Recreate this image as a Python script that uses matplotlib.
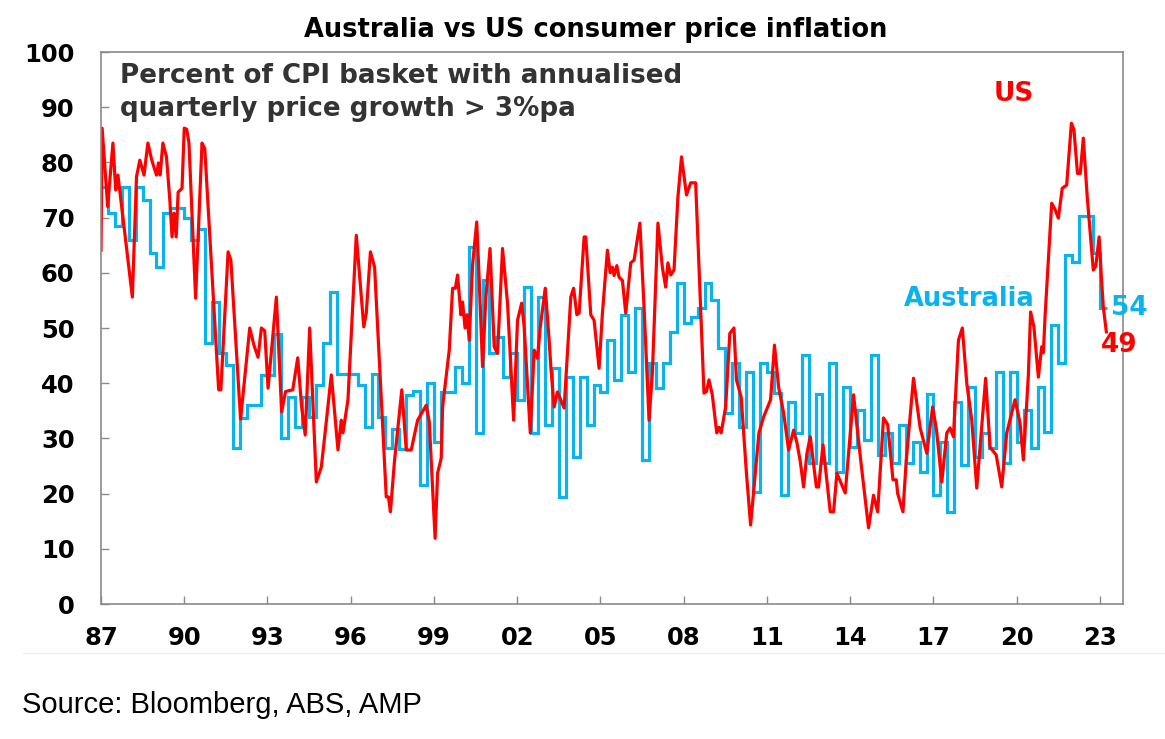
import numpy as np
import matplotlib
matplotlib.use('Agg')
import matplotlib.pyplot as plt
from matplotlib.lines import Line2D

# %%
# Data

# Australia: quarterly, 1987Q1 .. 2023Q1 (% of CPI basket)
aus_start = 1987
aus_values = [
    75.6, 70.8, 68.4, 75.6, 66.0, 75.6, 73.2, 63.6, 61.1, 70.8,    # 87-89
    71.7, 71.7, 69.9, 66.0, 68.0, 47.3, 54.7, 45.4, 43.3, 28.3,    # 89-91
    33.7, 36.0, 36.0, 41.5, 41.5, 49.0, 30.0, 37.5, 32.0, 37.5,    # 92-94
    33.9, 39.7, 47.3, 56.5, 41.6, 41.6, 41.6, 39.7, 32.0, 41.6,    # 94-96
    33.9, 28.3, 31.7, 28.0, 37.9, 38.5, 21.5, 40.0, 29.3, 38.4,    # 97-99
    38.4, 43.0, 40.0, 64.7, 31.0, 58.7, 45.4, 48.4, 41.1, 45.4,    # 99-01
    37.0, 57.4, 31.0, 55.6, 32.4, 42.7, 19.4, 41.1, 26.7, 41.1,    # 02-04
    32.4, 39.7, 38.4, 47.8, 40.6, 52.4, 42.0, 53.6, 26.1, 43.7,    # 04-06
    39.1, 43.7, 49.3, 58.1, 50.9, 52.0, 53.6, 58.1, 55.0, 46.4,    # 07-09
    34.6, 43.7, 32.1, 42.0, 20.3, 43.7, 42.0, 38.2, 19.7, 36.6,    # 09-11
    31.0, 45.1, 25.5, 38.0, 25.5, 43.7, 23.9, 39.3, 28.4, 35.1,    # 12-14
    29.7, 45.1, 27.0, 31.0, 25.5, 32.4, 25.5, 29.4, 23.9, 38.0,    # 14-16
    19.7, 29.4, 16.7, 36.6, 25.2, 39.3, 26.7, 31.0, 28.3, 42.0,    # 17-19
    25.5, 42.0, 29.4, 35.1, 28.3, 39.3, 31.2, 50.5, 43.7, 63.2,    # 19-21
    62.0, 70.3, 70.3, 63.5, 53.6,                                  # 22-23
]

# US: monthly-ish, turning points (decimal years)
us_dates = [
    1987.00, 1987.04, 1987.24, 1987.32, 1987.43, 1987.53, 1987.61,
    1988.13, 1988.28, 1988.40, 1988.55, 1988.69, 1988.83,
    1989.00, 1989.07, 1989.13, 1989.23, 1989.36, 1989.48, 1989.56, 1989.63, 1989.71, 1989.78, 1989.92,
    1990.00, 1990.09, 1990.17, 1990.41, 1990.64, 1990.74,
    1991.24, 1991.32, 1991.58, 1991.68,
    1992.03, 1992.36, 1992.51, 1992.66, 1992.78, 1992.90,
    1993.02, 1993.32, 1993.51, 1993.65, 1993.91,
    1994.09, 1994.23, 1994.36, 1994.52, 1994.76, 1994.94,
    1995.06, 1995.30, 1995.54, 1995.66, 1995.72, 1995.90,
    1996.20, 1996.47, 1996.56, 1996.71, 1996.86,
    1997.28, 1997.36, 1997.43, 1997.58, 1997.84,
    1998.00, 1998.18, 1998.41, 1998.72, 1998.83,
    1999.04, 1999.13, 1999.26, 1999.31, 1999.55, 1999.67, 1999.77, 1999.85, 1999.97,
    2000.03, 2000.12, 2000.19, 2000.27, 2000.39, 2000.54, 2000.63, 2000.75, 2000.87,
    2001.02, 2001.17, 2001.29, 2001.47, 2001.65, 2001.87,
    2002.01, 2002.16, 2002.25, 2002.47, 2002.61, 2002.73, 2002.83,
    2003.01, 2003.15, 2003.21, 2003.33, 2003.45, 2003.69, 2003.93,
    2004.03, 2004.15, 2004.23, 2004.41, 2004.47, 2004.65, 2004.77, 2004.95,
    2005.07, 2005.25, 2005.35, 2005.43, 2005.49, 2005.59, 2005.67, 2005.79, 2005.91,
    2006.09, 2006.21, 2006.42, 2006.57, 2006.75, 2006.87,
    2007.07, 2007.23, 2007.35, 2007.43, 2007.53, 2007.65, 2007.79, 2007.92,
    2008.10, 2008.25, 2008.43, 2008.55, 2008.73, 2008.82, 2008.91,
    2009.03, 2009.19, 2009.27, 2009.35, 2009.51, 2009.66, 2009.81, 2009.90,
    2010.07, 2010.26, 2010.41, 2010.59, 2010.71, 2010.88,
    2011.13, 2011.27, 2011.42, 2011.60, 2011.78, 2011.96,
    2012.08, 2012.20, 2012.32, 2012.44, 2012.56, 2012.78, 2012.86,
    2013.02, 2013.28, 2013.40, 2013.52, 2013.82,
    2014.12, 2014.39, 2014.66, 2014.84, 2014.99,
    2015.20, 2015.35, 2015.54, 2015.66, 2015.71, 2015.90,
    2016.02, 2016.28, 2016.52, 2016.76, 2016.97,
    2017.11, 2017.30, 2017.48, 2017.60, 2017.72, 2017.90,
    2018.04, 2018.20, 2018.38, 2018.56, 2018.74, 2018.88,
    2019.04, 2019.26, 2019.46, 2019.64, 2019.94,
    2020.12, 2020.24, 2020.42, 2020.50, 2020.62, 2020.78, 2020.90, 2020.96, 2021.02,
    2021.26, 2021.38, 2021.50, 2021.64, 2021.80, 2021.97,
    2022.06, 2022.19, 2022.29, 2022.40, 2022.54, 2022.76, 2022.85, 2022.97,
    2023.05, 2023.12, 2023.23,
]
us_values = [
    64.1, 86.2, 72.0, 76.8, 83.5, 75.0, 77.7,
    55.6, 77.4, 80.4, 77.7, 83.5, 80.4,
    77.7, 79.9, 77.7, 83.5, 81.0, 73.2, 66.5, 70.8, 66.5, 74.6, 75.3,
    86.2, 86.0, 83.5, 55.4, 83.5, 82.5,
    38.8, 38.8, 63.8, 62.3,
    33.5, 50.0, 46.9, 44.7, 50.0, 49.5,
    39.1, 55.6, 34.8, 38.5, 38.8,
    44.6, 35.7, 30.6, 50.0, 22.1, 24.8,
    30.3, 41.5, 27.9, 33.3, 31.0, 37.0,
    66.8, 50.2, 52.7, 63.8, 61.0,
    19.4, 19.4, 16.7, 26.1, 38.8,
    27.9, 27.9, 33.3, 36.0, 33.0,
    11.9, 23.7, 26.4, 35.7, 46.0, 57.2, 57.2, 59.6, 52.4,
    54.7, 50.0, 52.4, 47.8, 61.4, 69.2, 58.7, 43.0, 55.6,
    64.4, 46.6, 45.4, 64.4, 54.5, 33.3,
    51.4, 54.5, 50.2, 31.0, 46.0, 44.5, 50.2,
    57.2, 47.8, 43.0, 35.7, 38.4, 35.5, 55.6,
    57.2, 52.4, 52.7, 66.5, 66.5, 52.4, 51.4, 42.7,
    52.7, 64.1, 60.0, 61.0, 59.5, 61.3, 59.2, 58.6, 52.7,
    61.8, 62.3, 69.0, 53.8, 33.3, 41.8,
    69.0, 61.0, 57.4, 61.8, 59.6, 60.5, 73.7, 81.0,
    74.1, 76.3, 76.3, 61.0, 38.2, 38.5, 40.6,
    37.9, 31.0, 32.0, 31.0, 35.7, 49.0, 50.0, 40.6,
    37.5, 23.7, 14.3, 24.3, 31.0, 33.9,
    37.0, 46.9, 39.3, 34.6, 27.9, 31.5,
    29.2, 25.8, 21.2, 27.3, 30.3, 21.2, 21.2,
    28.8, 16.7, 16.7, 23.7, 20.1,
    37.9, 25.5, 13.8, 19.7, 16.7,
    33.7, 32.5, 22.5, 22.5, 20.0, 16.7,
    26.1, 40.9, 31.9, 27.3, 35.7,
    31.5, 22.1, 31.0, 31.9, 30.3, 47.8,
    50.0, 40.0, 33.3, 21.0, 32.1, 40.9,
    28.4, 27.0, 21.2, 31.0, 37.0,
    32.8, 26.1, 41.5, 52.9, 50.2, 41.1, 46.6, 45.5, 52.0,
    72.6, 71.5, 69.9, 75.3, 75.9, 87.1,
    86.0, 78.0, 78.0, 84.4, 73.8, 60.5, 61.2, 66.5,
    59.3, 53.8, 49.3,
]

year_ticks = list(range(1987, 2024, 3))
y_ticks = list(range(0, 101, 10))

RED = '#FF0000'
BLUE = '#0AB2EE'
GREY = '#8a8a8a'

# %%
fig = plt.figure(figsize=(11.65, 7.39), dpi=100)
W, H = 1165, 739
ax = fig.add_axes([101 / W, 1 - 604 / H, (1123 - 101) / W, (604 - 52) / H])

# Australia is quarterly -> draw as steps
aus_edges = aus_start + np.arange(len(aus_values) + 1) / 4
ax.stairs(aus_values, aus_edges, baseline=None, color=BLUE, linewidth=2.3)

ax.plot(us_dates, us_values, color=RED, linewidth=2.3, solid_joinstyle='round')

ax.set_xlim(1987, 2023.83)
ax.set_ylim(0, 100)
ax.set_xticks(year_ticks)
ax.set_xticklabels(['%02d' % (y % 100) for y in year_ticks], fontweight='bold')
ax.set_yticks(y_ticks)
ax.set_yticklabels([str(v) for v in y_ticks], fontweight='bold')
ax.tick_params(axis='both', direction='in', length=6, width=1, color=GREY,
               labelsize=17.5)
ax.tick_params(axis='x', pad=15.5)
ax.tick_params(axis='y', pad=19)
for s in ax.spines.values():
    s.set_color(GREY)
    s.set_linewidth(1.2)

# series labels
ax.text(2019.9, 92.4, 'US', color=RED, fontsize=19, fontweight='bold',
        ha='center', va='center')
ax.text(2018.28, 55.3, 'Australia', color=BLUE, fontsize=18.5,
        fontweight='bold', ha='center', va='center')
ax.annotate('%.0f' % aus_values[-1], xy=(aus_edges[-1], aus_values[-1]),
            xytext=(3, 0), textcoords='offset points', color=BLUE,
            fontsize=19, fontweight='bold', ha='left', va='center')
ax.annotate('%.0f' % us_values[-1], xy=(us_dates[-1], us_values[-1]),
            xytext=(-4, -9.5), textcoords='offset points', color=RED,
            fontsize=19, fontweight='bold', ha='left', va='center')

# titles and source
fig.text(596 / W, 1 - 30 / H, 'Australia vs US consumer price inflation',
         ha='center', va='center', fontsize=18.5, fontweight='bold')
fig.text(120 / W, 1 - 63 / H,
         'Percent of CPI basket with annualised\nquarterly price growth > 3%pa',
         ha='left', va='top', fontsize=18.8, fontweight='bold', color='#333333',
         linespacing=1.35)
fig.add_artist(Line2D([23 / W, 1], [1 - 653 / H] * 2, transform=fig.transFigure,
                      color='#ececec', linewidth=1))
fig.text(22 / W, 1 - 705 / H, 'Source: Bloomberg, ABS, AMP', ha='left',
         va='center', fontsize=21, family='Liberation Sans')

fig.savefig('out.png', dpi=100)
